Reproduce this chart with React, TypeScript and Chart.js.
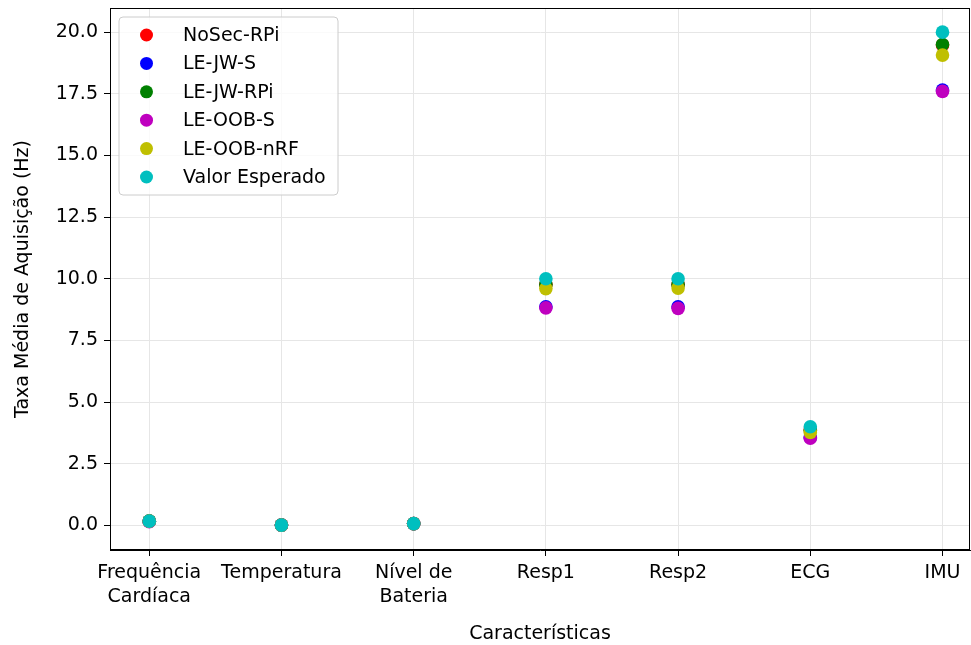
import React, { useEffect, useRef } from "react";
import { Chart, registerables } from "chart.js";

Chart.register(...registerables);

const categories: string[][] = [
  ["Frequência", "Cardíaca"],
  ["Temperatura"],
  ["Nível de", "Bateria"],
  ["Resp1"],
  ["Resp2"],
  ["ECG"],
  ["IMU"],
];

const seriesNames = ["NoSec-RPi", "LE-JW-S", "LE-JW-RPi", "LE-OOB-S", "LE-OOB-nRF", "Valor Esperado"];
const seriesColors = ["#ff0000", "#0000ff", "#008000", "#bf00bf", "#bfbf00", "#00bfbf"];

const noSecRPi = [0.17, 0.01, 0.07, 9.78, 9.78, 3.88, 19.48];
const leJwS = [0.17, 0.01, 0.07, 8.86, 8.86, 3.56, 17.65];
const leJwRPi = [0.17, 0.01, 0.07, 9.76, 9.76, 3.86, 19.5];
const leOobS = [0.15, 0.01, 0.07, 8.82, 8.8, 3.53, 17.6];
const leOobNRF = [0.17, 0.01, 0.07, 9.6, 9.62, 3.77, 19.07];
const valorEsperado = [0.17, 0.01, 0.07, 10.0, 10.0, 4.0, 20.0];

const seriesValues = [noSecRPi, leJwS, leJwRPi, leOobS, leOobNRF, valorEsperado];

const yTicks = [0, 2.5, 5, 7.5, 10, 12.5, 15, 17.5, 20];

const FONT = "DejaVu Sans";
const FS = 19;

export default function App() {
  const ref = useRef<HTMLCanvasElement | null>(null);
  useEffect(() => {
    if (!ref.current) return;
    const frame = {
      id: "frame",
      afterDraw(chart: any) {
        const { ctx, chartArea } = chart;
        const { left, top, right, bottom } = chartArea;
        ctx.save();
        ctx.strokeStyle = "#000";
        ctx.lineWidth = 1;
        ctx.strokeRect(left + 0.5, top + 0.5, right - left - 1, bottom - top - 1);
        // legend
        const bx = left + 9;
        const by = top + 9;
        const bw = 219;
        const bh = 178;
        const r = 4;
        ctx.beginPath();
        ctx.moveTo(bx + r, by);
        ctx.lineTo(bx + bw - r, by);
        ctx.quadraticCurveTo(bx + bw, by, bx + bw, by + r);
        ctx.lineTo(bx + bw, by + bh - r);
        ctx.quadraticCurveTo(bx + bw, by + bh, bx + bw - r, by + bh);
        ctx.lineTo(bx + r, by + bh);
        ctx.quadraticCurveTo(bx, by + bh, bx, by + bh - r);
        ctx.lineTo(bx, by + r);
        ctx.quadraticCurveTo(bx, by, bx + r, by);
        ctx.closePath();
        ctx.fillStyle = "rgba(255,255,255,0.8)";
        ctx.fill();
        ctx.strokeStyle = "#cccccc";
        ctx.lineWidth = 1;
        ctx.stroke();
        ctx.font = `${FS}px "${FONT}"`;
        ctx.textBaseline = "middle";
        ctx.textAlign = "left";
        seriesNames.forEach((name, i) => {
          const cy = by + 18 + i * 28.4;
          ctx.beginPath();
          ctx.arc(bx + 27.5, cy, 6.5, 0, Math.PI * 2);
          ctx.fillStyle = seriesColors[i];
          ctx.fill();
          ctx.fillStyle = "#000";
          ctx.fillText(name, bx + 64, cy + 1);
        });
        ctx.restore();
      },
    };
    const chart = new Chart(ref.current, {
      type: "scatter",
      data: {
        datasets: seriesNames.map((name, i) => ({
          label: name,
          data: seriesValues[i].map((v, j) => ({ x: j, y: v })),
          backgroundColor: seriesColors[i],
          borderColor: seriesColors[i],
          pointRadius: 6.8,
          pointBorderWidth: 0,
          order: seriesNames.length - i,
        })),
      },
      options: {
        responsive: false,
        animation: false,
        events: [],
        layout: { autoPadding: false, padding: { top: 8, right: 1, left: 0, bottom: 0 } },
        plugins: { legend: { display: false }, tooltip: { enabled: false } },
        scales: {
          x: {
            type: "linear",
            min: -0.297,
            max: 6.208,
            afterBuildTicks: (scale: any) => {
              scale.ticks = categories.map((_, i) => ({ value: i }));
            },
            afterFit: (scale: any) => {
              scale.height = 95;
              scale.paddingLeft = 0;
              scale.paddingRight = 0;
            },
            ticks: {
              autoSkip: false,
              maxRotation: 0,
              minRotation: 0,
              color: "#000",
              padding: 5,
              font: { family: FONT, size: FS, lineHeight: 1.26 },
              callback: (v: any) => categories[v] ?? "",
            },
            grid: { color: "#e6e6e6", tickColor: "#000", tickLength: 6, lineWidth: 1 },
            border: { display: true, color: "#000", width: 1 },
            title: {
              display: true,
              text: "Características",
              color: "#000",
              font: { family: FONT, size: FS, lineHeight: 1.2 },
              padding: { top: 0, bottom: 0 },
            },
          },
          y: {
            type: "linear",
            min: -1.0,
            max: 20.98,
            afterBuildTicks: (scale: any) => {
              scale.ticks = yTicks.map((v) => ({ value: v }));
            },
            afterFit: (scale: any) => {
              scale.width = 110;
              scale.paddingTop = 0;
              scale.paddingBottom = 0;
            },
            ticks: {
              color: "#000",
              padding: 6,
              font: { family: FONT, size: FS },
              callback: (v: any) => Number(v).toFixed(1),
            },
            grid: { color: "#e6e6e6", tickColor: "#000", tickLength: 6, lineWidth: 1 },
            border: { display: true, color: "#000", width: 1 },
            title: {
              display: true,
              text: "Taxa Média de Aquisição (Hz)",
              color: "#000",
              font: { family: FONT, size: FS, lineHeight: 1.2 },
              padding: { top: 12, bottom: 0 },
            },
          },
        },
      },
      plugins: [frame],
    } as any);
    return () => chart.destroy();
  }, []);
  return (
    <div style={{ position: "fixed", left: 0, top: 0, width: 971, height: 645, background: "#fff" }}>
      <canvas ref={ref} width={971} height={645} style={{ width: 971, height: 645, display: "block" }} />
    </div>
  );
}
